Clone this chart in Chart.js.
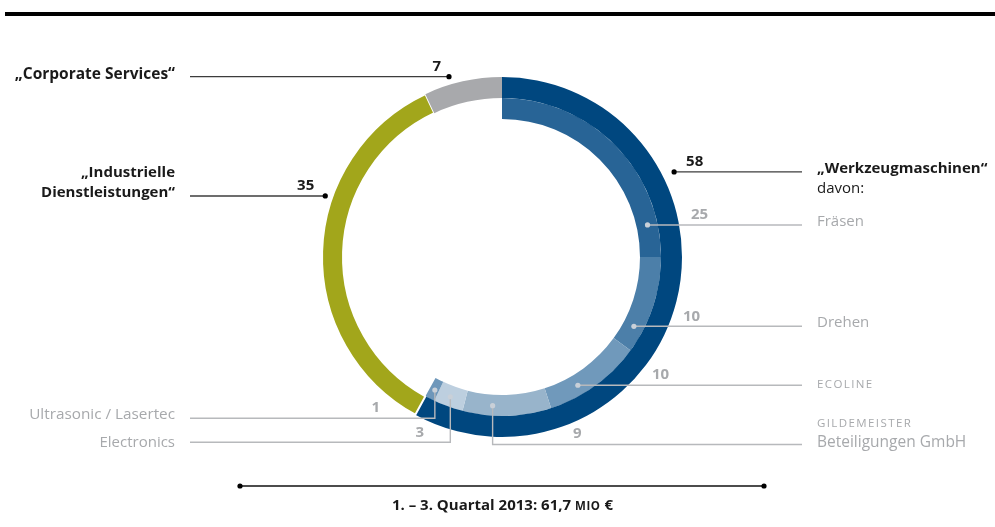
<!DOCTYPE html>
<html>
<head>
<meta charset="utf-8">
<script src="https://cdn.jsdelivr.net/npm/chart.js@4.4.0/dist/chart.umd.min.js"></script>
<style>
  html, body { margin: 0; padding: 0; background: #ffffff; }
  #wrap { width: 995px; height: 527px; position: relative; }
</style>
</head>
<body>
<div id="wrap"><canvas id="c"></canvas></div>
<script>
// ---- data ----
const segmentLabels = ['„Werkzeugmaschinen“', '„Industrielle Dienstleistungen“', '„Corporate Services“'];
const segmentValues = [58, 35, 7];
const segmentColors = ['#00477f', '#a2a61b', '#a8a9ac'];

const divisionLabels = ['Fräsen', 'Drehen', 'ECOLINE', 'GILDEMEISTER Beteiligungen GmbH', 'Electronics', 'Ultrasonic / Lasertec'];
const divisionValues = [25, 10, 10, 9, 3, 1];
const divisionColors = ['#286496', '#4c7fa9', '#7099bb', '#98b4cb', '#bdcfdf', '#6e97ba'];

const totalText = ['1. – 3. Quartal 2013: 61,7 ', 'MIO', ' €'];

const sum = a => a.reduce((s, v) => s + v, 0);
const innerData = divisionValues.concat([sum(segmentValues) - sum(divisionValues)]);
const innerColors = divisionColors.concat(['rgba(0,0,0,0)']);

const FONT = '"Open Sans", "Noto Sans", sans-serif';
const BLACK = '#1a1a1a';
const GREY = '#a7a9ac';
const DARKLINE = '#3c3c3c';
const GREYLINE = '#b7b9bc';

function pointOn(arc, frac, r) {
  const a = arc.startAngle + (arc.endAngle - arc.startAngle) * frac;
  return { x: arc.x + r * Math.cos(a), y: arc.y + r * Math.sin(a) };
}

const annotate = {
  id: 'annotate',
  afterDraw(chart) {
    const ctx = chart.ctx;
    ctx.save();
    // top bar
    ctx.fillStyle = '#000';
    ctx.fillRect(5, 12, 990, 4);

    const outer = chart.getDatasetMeta(0).data;
    const inner = chart.getDatasetMeta(1).data;

    function dot(p, col) {
      ctx.beginPath(); ctx.fillStyle = col; ctx.arc(p.x, p.y, 2.6, 0, Math.PI * 2); ctx.fill();
    }
    function line(pts, col) {
      ctx.beginPath(); ctx.strokeStyle = col; ctx.lineWidth = 1.4;
      ctx.moveTo(pts[0][0], pts[0][1]);
      for (let i = 1; i < pts.length; i++) ctx.lineTo(pts[i][0], pts[i][1]);
      ctx.stroke();
    }
    function text(t, x, y, opts) {
      ctx.font = (opts.bold ? 'bold ' : '') + (opts.size || 15) + 'px ' + FONT;
      ctx.fillStyle = opts.color || BLACK;
      ctx.textAlign = opts.align || 'left';
      ctx.textBaseline = opts.base || 'alphabetic';
      ctx.letterSpacing = (opts.spacing || 0) + 'px';
      ctx.fillText(t, x, y);
      ctx.letterSpacing = '0px';
    }

    // ---- outer ring labels ----
    {
      const arc = outer[0];
      const p = pointOn(arc, 0.305, arc.outerRadius + 12);
      line([[p.x, p.y], [802, p.y]], DARKLINE); dot(p, '#000');
      text(String(segmentValues[0]), p.x + 12, p.y - 10, { bold: true, base: 'middle' });
      text(segmentLabels[0], 817, p.y + 1.6, { bold: true });
      text('davon:', 817, p.y + 21.6, {});
    }
    {
      const arc = outer[1];
      const p = pointOn(arc, 0.637, arc.outerRadius + 7);
      line([[190, p.y], [p.x, p.y]], DARKLINE); dot(p, '#000');
      text(String(segmentValues[1]), p.x - 11, p.y - 10, { bold: true, base: 'middle', align: 'right' });
      const parts = segmentLabels[1].split(' ');
      text(parts[0], 175, p.y - 18.5, { bold: true, align: 'right' });
      text(parts[1], 175, p.y + 1, { bold: true, align: 'right' });
    }
    {
      const arc = outer[2];
      const p = pointOn(arc, 0.35, arc.outerRadius + 8);
      line([[190, p.y], [p.x, p.y]], DARKLINE); dot(p, '#000');
      text(String(segmentValues[2]), p.x - 8, p.y - 10, { bold: true, base: 'middle', align: 'right' });
      text(segmentLabels[2], 175, p.y + 2.6, { bold: true, align: 'right', size: 15.5 });
    }

    // ---- inner ring labels ----
    const midR = a => (a.innerRadius + a.outerRadius) / 2 + 0.5;
    const dotCol = '#c9d0d8';
    {
      const a = inner[0]; const p = pointOn(a, 0.862, midR(a));
      line([[p.x, p.y], [802, p.y]], GREYLINE); dot(p, dotCol);
      text(String(divisionValues[0]), 691, p.y - 10.5, { bold: true, base: 'middle', color: GREY });
      text(divisionLabels[0], 817, p.y + 1, { color: GREY });
    }
    {
      const a = inner[1]; const p = pointOn(a, 0.77, midR(a));
      line([[p.x, p.y], [802, p.y]], GREYLINE); dot(p, dotCol);
      text(String(divisionValues[1]), 683, p.y - 10, { bold: true, base: 'middle', color: GREY });
      text(divisionLabels[1], 817, p.y + 0.6, { color: GREY });
    }
    {
      const a = inner[2]; const p = pointOn(a, 0.65, midR(a));
      line([[p.x, p.y], [802, p.y]], GREYLINE); dot(p, dotCol);
      text(String(divisionValues[2]), 652, p.y - 11, { bold: true, base: 'middle', color: GREY });
      text(divisionLabels[2], 817, p.y + 2.6, { color: GREY, size: 11.5, spacing: 1.4 });
    }
    {
      const a = inner[3]; const p = pointOn(a, 0.667, midR(a));
      const ly = 444.5;
      line([[p.x, p.y], [p.x, ly], [802, ly]], GREYLINE); dot(p, dotCol);
      text(String(divisionValues[3]), 573, ly - 10.5, { bold: true, base: 'middle', color: GREY });
      const w = divisionLabels[3].split(' ');
      text(w[0], 817, ly - 18, { color: GREY, size: 11.5, spacing: 1.4 });
      text(w.slice(1).join(' '), 817, ly + 2, { color: GREY, size: 15.5 });
    }
    {
      const a = inner[4]; const p = pointOn(a, 0.546, midR(a));
      const ly = 442.3;
      line([[p.x, p.y], [p.x, ly], [190, ly]], GREYLINE); dot(p, dotCol);
      text(String(divisionValues[4]), 424, ly - 10, { bold: true, base: 'middle', align: 'right', color: GREY });
      text(divisionLabels[4], 175, ly + 4.4, { align: 'right', color: GREY });
    }
    {
      const a = inner[5]; const p = pointOn(a, 0.44, midR(a));
      const ly = 418.3;
      line([[p.x, p.y], [p.x, ly], [190, ly]], GREYLINE); dot(p, dotCol);
      text(String(divisionValues[5]), 380, ly - 11, { bold: true, base: 'middle', align: 'right', color: GREY });
      text(divisionLabels[5], 175, ly + 0.5, { align: 'right', color: GREY, size: 15.3 });
    }

    // ---- bottom total ----
    line([[240, 486], [764, 486]], '#111');
    dot({ x: 240, y: 486 }, '#000'); dot({ x: 764, y: 486 }, '#000');
    ctx.font = 'bold 15px ' + FONT;
    const w1 = ctx.measureText(totalText[0]).width;
    const w3 = ctx.measureText(totalText[2]).width;
    ctx.font = 'bold 11.5px ' + FONT; ctx.letterSpacing = '0.6px';
    const w2 = ctx.measureText(totalText[1]).width;
    ctx.letterSpacing = '0px';
    const x0 = 502.5 - (w1 + w2 + w3) / 2;
    const by = 509.5;
    text(totalText[0], x0, by, { bold: true, size: 15 });
    text(totalText[1], x0 + w1, by, { bold: true, size: 11.5, spacing: 0.6 });
    text(totalText[2], x0 + w1 + w2, by, { bold: true, size: 15 });

    ctx.restore();
  }
};

new Chart(document.getElementById('c'), {
  type: 'doughnut',
  data: {
    labels: segmentLabels,
    datasets: [
      { data: segmentValues, backgroundColor: segmentColors, borderColor: '#ffffff', borderWidth: [0, 2, 0], weight: 1 },
      { data: innerData, backgroundColor: innerColors, borderWidth: 0, weight: 1 }
    ]
  },
  options: {
    responsive: true,
    maintainAspectRatio: false,
    animation: false,
    events: [],
    cutout: '76.67%',
    layout: { padding: { top: 76, bottom: 89, left: 9, right: 0 } },
    plugins: { legend: { display: false }, tooltip: { enabled: false } }
  },
  plugins: [annotate]
});
</script>
</body>
</html>
